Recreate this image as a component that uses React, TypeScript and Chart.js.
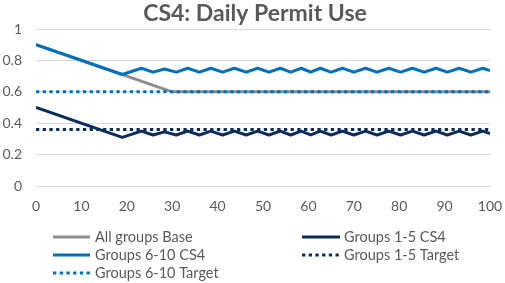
import React, { useEffect, useRef } from "react";
import { Chart, registerables } from "chart.js";

Chart.register(...registerables);

const titleText = "CS4: Daily Permit Use";

const seriesLabels = [
  "All groups Base",
  "Groups 1-5 CS4",
  "Groups 6-10 CS4",
  "Groups 1-5 Target",
  "Groups 6-10 Target",
];

const xMin = 0;
const xMax = 100;
const xStep = 10;
const yMin = 0;
const yMax = 1;
const yStep = 0.2;

const baseDays = [0, 30, 100];
const baseValues = [0.9, 0.6, 0.6];

const csDays = [
  0, 19, 23.2, 25.8, 28.3, 30.9, 33.4, 36.0, 38.5, 41.1, 43.7, 46.3, 48.8, 51.3,
  53.8, 56.1, 58.4, 60.5, 62.6, 65.0, 67.5, 70.0, 72.6, 75.1, 77.7, 80.3, 82.9,
  85.5, 88.1, 90.6, 93.2, 95.8, 98.4, 100,
];

const groups15Values = [
  0.5, 0.31, 0.35, 0.325, 0.345, 0.325, 0.35, 0.325, 0.35, 0.325, 0.35, 0.325,
  0.35, 0.325, 0.35, 0.325, 0.35, 0.325, 0.35, 0.325, 0.35, 0.325, 0.35, 0.325,
  0.35, 0.325, 0.35, 0.325, 0.35, 0.325, 0.35, 0.325, 0.35, 0.334,
];

const groups610Values = [
  0.9, 0.71, 0.75, 0.725, 0.745, 0.725, 0.75, 0.725, 0.75, 0.725, 0.75, 0.725,
  0.75, 0.725, 0.75, 0.725, 0.75, 0.725, 0.75, 0.725, 0.75, 0.725, 0.75, 0.725,
  0.75, 0.725, 0.75, 0.725, 0.75, 0.725, 0.75, 0.725, 0.75, 0.735,
];

const targetDays = [0, 100];
const target15Values = [0.36, 0.36];
const target610Values = [0.6, 0.6];

const GRAY_TEXT = "#595959";
const BASE_COLOR = "#8c8c8c";
const DARK_BLUE = "#0b2c5f";
const BLUE = "#0070c0";
const DOTS = [3.3, 3.4];

const FONT = "Lato, 'Open Sans', sans-serif";

const toPoints = (xs: number[], ys: number[]) =>
  xs.map((x, i) => ({ x, y: ys[i] }));

const legendPlugin = {
  id: "customTitleLegend",
  afterDraw(chart: any) {
    const ctx = chart.ctx as CanvasRenderingContext2D;
    ctx.save();
    // Title
    ctx.fillStyle = GRAY_TEXT;
    ctx.font = `bold 23px ${FONT}`;
    ctx.textAlign = "center";
    ctx.textBaseline = "alphabetic";
    ctx.fillText(titleText, 255, 21);

    // Legend (two columns, row-major)
    const cols = [
      { x0: 53, x1: 90, tx: 95 },
      { x0: 302, x1: 340, tx: 344 },
    ];
    const rows = [237, 255, 273];
    chart.data.datasets.forEach((ds: any, i: number) => {
      const col = cols[i % 2];
      const y = rows[Math.floor(i / 2)];
      ctx.beginPath();
      ctx.strokeStyle = ds.borderColor;
      ctx.lineWidth = 3;
      ctx.lineCap = "butt";
      ctx.setLineDash(ds.borderDash || []);
      ctx.moveTo(col.x0, y);
      ctx.lineTo(col.x1, y);
      ctx.stroke();
      ctx.setLineDash([]);
      ctx.fillStyle = GRAY_TEXT;
      ctx.font = `14.5px ${FONT}`;
      ctx.textAlign = "left";
      ctx.textBaseline = "middle";
      ctx.fillText(ds.label, col.tx, y);
    });
    ctx.restore();
  },
};

export default function App() {
  const canvasRef = useRef<HTMLCanvasElement | null>(null);

  useEffect(() => {
    document.body.style.margin = "0";
    const canvas = canvasRef.current;
    if (!canvas) return;
    const common = {
      pointRadius: 0,
      pointHoverRadius: 0,
      borderWidth: 3,
      tension: 0,
      borderJoinStyle: "round" as const,
      fill: false,
    };
    const chart = new Chart(canvas, {
      type: "line",
      data: {
        datasets: [
          {
            ...common,
            label: seriesLabels[0],
            data: toPoints(baseDays, baseValues),
            borderColor: BASE_COLOR,
            order: 5,
          },
          {
            ...common,
            label: seriesLabels[1],
            data: toPoints(csDays, groups15Values),
            borderColor: DARK_BLUE,
            order: 4,
          },
          {
            ...common,
            label: seriesLabels[2],
            data: toPoints(csDays, groups610Values),
            borderColor: BLUE,
            order: 3,
          },
          {
            ...common,
            label: seriesLabels[3],
            data: toPoints(targetDays, target15Values),
            borderColor: DARK_BLUE,
            borderDash: DOTS,
            order: 2,
          },
          {
            ...common,
            label: seriesLabels[4],
            data: toPoints(targetDays, target610Values),
            borderColor: BLUE,
            borderDash: DOTS,
            order: 1,
          },
        ],
      },
      options: {
        animation: false,
        responsive: false,
        maintainAspectRatio: false,
        devicePixelRatio: 1,
        layout: { padding: { top: 29, right: 0, bottom: 0, left: 0 } },
        plugins: {
          legend: { display: false },
          title: { display: false },
          tooltip: { enabled: false },
        },
        scales: {
          x: {
            type: "linear",
            min: xMin,
            max: xMax,
            ticks: {
              stepSize: xStep,
              color: GRAY_TEXT,
              font: { family: FONT, size: 14 },
              padding: 12,
              maxRotation: 0,
            },
            grid: { display: false, drawTicks: false },
            border: { display: false },
            afterFit: (scale: any) => {
              scale.height = 97;
              scale.paddingRight = 15;
              scale.paddingLeft = 0;
            },
          },
          y: {
            min: yMin,
            max: yMax,
            ticks: {
              stepSize: yStep,
              color: GRAY_TEXT,
              font: { family: FONT, size: 14 },
              padding: 14,
              callback: (v: any) => String(Number(Number(v).toFixed(2))),
            },
            grid: { color: "#d9d9d9", lineWidth: 1, drawTicks: false },
            border: { display: false },
            afterFit: (scale: any) => {
              scale.width = 36;
            },
          },
        },
      },
      plugins: [legendPlugin],
    });
    return () => chart.destroy();
  }, []);

  return (
    <canvas
      ref={canvasRef}
      width={505}
      height={283}
      style={{ position: "fixed", left: 0, top: 0, display: "block" }}
    />
  );
}
